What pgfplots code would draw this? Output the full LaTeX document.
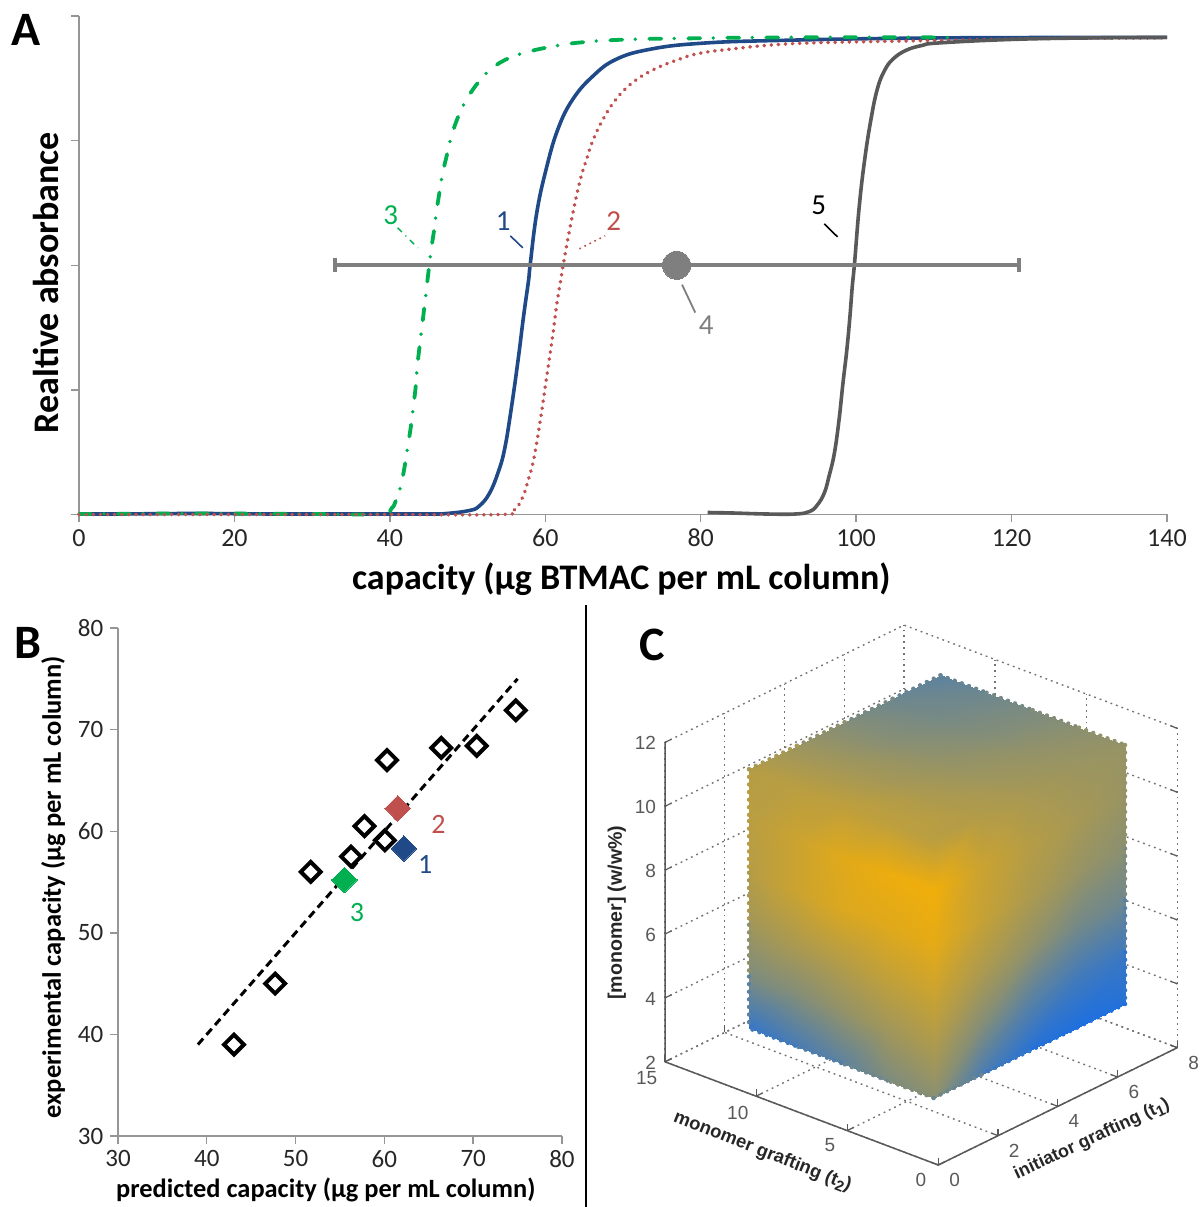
\documentclass[border=0pt]{standalone}
\usepackage{pgfplots}
\pgfplotsset{compat=1.18}
\usepackage{fontspec}
\setmainfont{Carlito}
\newfontfamily\arialf{Liberation Sans}
\definecolor{cblue}{RGB}{31,73,135}
\definecolor{cred}{RGB}{192,80,77}
\definecolor{cgreen}{RGB}{0,176,80}
\definecolor{cdark}{RGB}{89,89,89}
\definecolor{cgray}{RGB}{127,127,127}
\definecolor{caxis}{RGB}{150,150,150}
\pgfplotsset{
  office/.style={
    scale only axis, clip=false,
    axis x line*=bottom, axis y line*=left,
    axis line style={draw=caxis,line width=0.8pt,-},
    tick style={draw=caxis,line width=0.7pt},
    tick align=outside, major tick length=3.8pt,
    /pgf/number format/assume math mode=true,
    tick label style={font=\fontsize{13}{15}\selectfont,text=black!85},
  },
  edgedots/.style={mesh,point meta=explicit,line width=2.2pt,line cap=round,dash pattern=on 0pt off 3.8pt},
  face/.style={surf,shader=interp,point meta=explicit},
}
\begin{document}
\begin{tikzpicture}[x=1pt,y=1pt]
\useasboundingbox (0,0) rectangle (600,603.5);
% ---------- A
\begin{axis}[office, at={(39.5pt,346.25pt)}, anchor=south west, width=544pt, height=249.25pt,
  xmin=0,xmax=140,ymin=0,ymax=1,
  xtick={0,20,...,140}, ytick={0,0.25,0.5,0.75,1}, yticklabels={},
  xlabel={\fontsize{18}{20}\selectfont\bfseries capacity (µg BTMAC per mL column)},
  x label style={at={(axis description cs:0.4985,-0.13)},anchor=center},
  ylabel={\fontsize{18}{20}\selectfont\bfseries Realtive absorbance},
  y label style={at={(axis description cs:-0.0303,0.465)},anchor=center,rotate=0},
]
\addplot[no marks,cblue,line width=1.8pt,smooth,tension=0.7] coordinates {
(0,0.001)(5,0.001)(15,0.002)(25,0.001)(35,0.001)(45,0.001)(47.3,0.002)(50.25,0.008)(51.5,0.017)(52.8,0.042)(53.9,0.083)(54.75,0.13)(55.6,0.21)(56.5,0.31)(57.2,0.397)(57.85,0.47)(58.05,0.5)(58.9,0.605)(60.1,0.692)(61.6,0.772)(63.5,0.832)(66.1,0.879)(69.1,0.913)(73.4,0.933)(79.8,0.945)(90.1,0.951)(110.7,0.956)(140,0.957)};
\addplot[no marks,cgreen,line width=1.9pt,smooth,tension=0.7,line cap=round,dash pattern=on 6pt off 6.5pt on 0pt off 7pt] coordinates {
(0,0.001)(15,0.002)(30,0.001)(38.7,0.001)(40.2,0.012)(40.8,0.029)(41.4,0.057)(41.9,0.096)(42.3,0.136)(42.7,0.176)(43,0.214)(43.3,0.253)(43.5,0.293)(43.8,0.334)(44.1,0.372)(44.4,0.411)(44.7,0.451)(45,0.491)(45.3,0.53)(45.7,0.571)(46,0.608)(46.4,0.648)(46.8,0.685)(47.4,0.725)(48,0.763)(48.9,0.802)(50,0.836)(51.5,0.869)(53.2,0.896)(55.4,0.916)(58,0.929)(60.3,0.937)(62.9,0.944)(65.3,0.948)(67.8,0.951)(73,0.954)(78.1,0.955)(90,0.957)(113,0.957)};
\addplot[no marks,cred,line width=1.8pt,smooth,tension=0.7,line cap=round,dash pattern=on 0.2pt off 3.35pt] coordinates {
(0,0)(20,0)(40,0)(54.3,0)(56,0.009)(57.1,0.035)(57.8,0.069)(58.5,0.11)(59.3,0.183)(60,0.257)(60.5,0.31)(61,0.364)(61.5,0.424)(62,0.471)(62.3,0.5)(63.3,0.585)(64.4,0.665)(65.3,0.712)(66.1,0.749)(67.2,0.786)(68.9,0.829)(71.2,0.866)(74,0.893)(77.2,0.913)(79.8,0.925)(84.1,0.934)(90.1,0.943)(96.9,0.947)(110.7,0.951)(125,0.955)(140,0.956)};
\addplot[no marks,cdark,line width=1.8pt,smooth,tension=0.7] coordinates {
(80.9,0.004)(84.1,0.003)(88.4,0.001)(92.2,0.001)(94,0.006)(95,0.019)(95.9,0.043)(96.5,0.076)(97.2,0.123)(97.8,0.19)(98.3,0.263)(98.8,0.33)(99.2,0.397)(99.5,0.457)(99.8,0.505)(100.4,0.618)(101.1,0.712)(101.9,0.792)(102.7,0.852)(103.6,0.889)(104.7,0.913)(106.4,0.931)(108.5,0.941)(110.7,0.946)(120,0.953)(130,0.956)(140,0.957)};
\addplot[cgray,line width=2pt,mark=*,mark size=7pt,mark options={fill=cgray,draw=cgray,line width=0pt},
  error bars/.cd,x dir=both,x explicit,error bar style={cgray,line width=2pt},
  error mark options={cgray,rotate=90,mark size=3.5pt,line width=2pt}]
  coordinates {(76.9,0.5) +- (44,0)};
\begin{scope}[every node/.style={font=\fontsize{14.5}{16}\selectfont,anchor=center}]
\node[text=cgreen] at (axis cs:40.1,0.601) {3};
\node[text=cblue] at (axis cs:54.6,0.589) {1};
\node[text=cred] at (axis cs:68.8,0.589) {2};
\node[text=black] at (axis cs:95.2,0.621) {5};
\node[text=cgray] at (axis cs:80.7,0.379) {4};
\end{scope}
\draw[cgreen,line width=0.7pt,dash pattern=on 3pt off 2.5pt on 0.6pt off 2.5pt] (axis cs:41,0.575)--(axis cs:43.6,0.535);
\draw[cblue,line width=0.8pt] (axis cs:55.5,0.559)--(axis cs:57.1,0.535);
\draw[cred,line width=0.8pt,dotted] (axis cs:64.4,0.533)--(axis cs:67.7,0.559);
\draw[black,line width=0.8pt] (axis cs:95.9,0.583)--(axis cs:97.6,0.557);
\draw[cgray,line width=0.9pt] (axis cs:77.6,0.461)--(axis cs:79.3,0.405);
\end{axis}
% ---------- B
\begin{axis}[office, at={(59pt,35.5pt)}, anchor=south west, width=222pt, height=254pt,
  xmin=30,xmax=80,ymin=30,ymax=80,
  xtick={30,40,...,80}, ytick={30,40,...,80},
  tick label style={font=\fontsize{12.5}{14}\selectfont,text=black!85},
  xlabel={\fontsize{13.2}{15}\selectfont\bfseries predicted capacity (µg per mL column)},
  x label style={at={(axis description cs:0.468,-0.106)},anchor=center},
  ylabel={\fontsize{13.25}{15}\selectfont\bfseries experimental capacity (µg per mL column)},
  y label style={at={(axis description cs:-0.146,0.49)},anchor=center,rotate=0},
]
\addplot[only marks,mark=square*,mark size=4.5pt,mark options={rotate=45,fill=cred,draw=cred,line width=0pt}] coordinates {(61.5,62.25)};
\addplot[only marks,mark=square*,mark size=4.5pt,mark options={rotate=45,fill=cblue,draw=cblue,line width=0pt}] coordinates {(62.2,58.3)};
\addplot[only marks,mark=square*,mark size=4.5pt,mark options={rotate=45,fill=cgreen,draw=cgreen,line width=0pt}] coordinates {(55.5,55.2)};
\addplot[only marks,mark=square,mark size=3.5pt,mark options={rotate=45,draw=black,line width=2pt}] coordinates {
(43.06,39)(47.7,45)(51.7,56)(56.25,57.5)(57.75,60.5)(60.05,59.1)(60.3,67)(66.4,68.2)(70.4,68.4)(74.8,71.9)};
\addplot[no marks,black,line width=1.5pt,dash pattern=on 4pt off 2.5pt] coordinates {(39,39)(75,75)};
\begin{scope}[every node/.style={font=\fontsize{14}{16}\selectfont,anchor=center}]
\node[text=cblue] at (axis cs:64.6,56.7) {1};
\node[text=cred] at (axis cs:66.1,60.7) {2};
\node[text=cgreen] at (axis cs:56.9,52) {3};
\end{scope}
\end{axis}
% ---------- C
\begin{axis}[anchor=origin, at={(469.15pt,21pt)},
  x={(14.94pt,7.33pt)}, y={(-9.11pt,3.44pt)}, z={(0pt,15.97pt)},
  clip=false,
  xmin=0,xmax=8,ymin=0,ymax=15,zmin=2,zmax=12,
  xtick={0,2,...,8}, ytick={0,5,10,15}, ztick={2,4,...,12},
  xtick pos=left, ytick pos=left, ztick pos=left,
  grid=major, grid style={line width=0.7pt,black!55,dash pattern=on 0.9pt off 2pt},
  axis line style={draw=none},
  tick style={draw=black!65,line width=0.6pt},
  major tick length=3.5pt,
  /pgf/number format/assume math mode=true,
  tick label style={font=\arialf\fontsize{9.5}{11}\selectfont,text=black!65},
  x tick label style={xshift=3pt},
  y tick label style={xshift=-4pt},
  z tick label style={xshift=-1pt},
  colormap={bo}{rgb255=(29,111,224) rgb255=(240,174,10)},
  point meta min=0, point meta max=1,
  xlabel={\arialf\fontsize{9}{11}\selectfont\bfseries initiator grafting (t\raisebox{-2pt}{\fontsize{7.5}{8}\selectfont 1})},
  x label style={at={(axis cs:3.22,-3.15,2)},rotate=25,anchor=center,text=black!85},
  ylabel={\arialf\fontsize{9.2}{11}\selectfont\bfseries monomer grafting (t\raisebox{-2pt}{\fontsize{7.5}{8}\selectfont 2})},
  y label style={at={(axis cs:-2.05,6.29,2)},rotate=-21.5,anchor=center,text=black!85},
  zlabel={\arialf\fontsize{9.8}{11}\selectfont\bfseries [monomer] (w/w\%)},
  z label style={at={(axis cs:0,17.64,6.1)},rotate=0,anchor=center,text=black!85},
]
\addplot3[face,mesh/rows=6,mesh/cols=5] table[meta=m,row sep=\\]{
x y z m\\
1 12.03 3.23 .12\\ 1 9.5 3.23 .2\\ 1 6.97 3.23 .3\\ 1 4.43 3.23 .45\\ 1 1.9 3.23 .52\\
1 12.03 4.85 .45\\ 1 9.5 4.85 .48\\ 1 6.97 4.85 .55\\ 1 4.43 4.85 .62\\ 1 1.9 4.85 .68\\
1 12.03 6.47 .62\\ 1 9.5 6.47 .68\\ 1 6.97 6.47 .72\\ 1 4.43 6.47 .78\\ 1 1.9 6.47 .82\\
1 12.03 8.10 .72\\ 1 9.5 8.10 .82\\ 1 6.97 8.10 .9\\ 1 4.43 8.10 .92\\ 1 1.9 8.10 .95\\
1 12.03 9.72 .74\\ 1 9.5 9.72 .82\\ 1 6.97 9.72 .92\\ 1 4.43 9.72 .98\\ 1 1.9 9.72 1\\
1 12.03 11.34 .72\\ 1 9.5 11.34 .74\\ 1 6.97 11.34 .76\\ 1 4.43 11.34 .76\\ 1 1.9 11.34 .74\\
};
\addplot3[face,mesh/rows=6,mesh/cols=5] table[meta=m,row sep=\\]{
x y z m\\
1 1.9 3.23 .52\\ 2.6 1.9 3.23 .22\\ 4.2 1.9 3.23 .05\\ 5.8 1.9 3.23 0\\ 7.41 1.9 3.23 .03\\
1 1.9 4.85 .68\\ 2.6 1.9 4.85 .5\\ 4.2 1.9 4.85 .3\\ 5.8 1.9 4.85 .18\\ 7.41 1.9 4.85 .15\\
1 1.9 6.47 .82\\ 2.6 1.9 6.47 .68\\ 4.2 1.9 6.47 .55\\ 5.8 1.9 6.47 .42\\ 7.41 1.9 6.47 .38\\
1 1.9 8.10 .95\\ 2.6 1.9 8.10 .8\\ 4.2 1.9 8.10 .68\\ 5.8 1.9 8.10 .58\\ 7.41 1.9 8.10 .52\\
1 1.9 9.72 1\\ 2.6 1.9 9.72 .82\\ 4.2 1.9 9.72 .72\\ 5.8 1.9 9.72 .65\\ 7.41 1.9 9.72 .58\\
1 1.9 11.34 .74\\ 2.6 1.9 11.34 .7\\ 4.2 1.9 11.34 .65\\ 5.8 1.9 11.34 .6\\ 7.41 1.9 11.34 .57\\
};
\addplot3[face,mesh/rows=5,mesh/cols=5] table[meta=m,row sep=\\]{
x y z m\\
1 1.9 11.34 .74\\ 2.6 1.9 11.34 .7\\ 4.2 1.9 11.34 .65\\ 5.8 1.9 11.34 .6\\ 7.41 1.9 11.34 .57\\
1 4.43 11.34 .76\\ 2.6 4.43 11.34 .68\\ 4.2 4.43 11.34 .6\\ 5.8 4.43 11.34 .56\\ 7.41 4.43 11.34 .52\\
1 6.97 11.34 .76\\ 2.6 6.97 11.34 .64\\ 4.2 6.97 11.34 .55\\ 5.8 6.97 11.34 .48\\ 7.41 6.97 11.34 .45\\
1 9.5 11.34 .74\\ 2.6 9.5 11.34 .62\\ 4.2 9.5 11.34 .5\\ 5.8 9.5 11.34 .42\\ 7.41 9.5 11.34 .38\\
1 12.03 11.34 .72\\ 2.6 12.03 11.34 .6\\ 4.2 12.03 11.34 .48\\ 5.8 12.03 11.34 .38\\ 7.41 12.03 11.34 .3\\
};
\addplot3[edgedots] table[meta=m,row sep=\\]{
x y z m\\ 1 12.03 3.23 .12\\ 1 12.03 4.85 .45\\ 1 12.03 6.47 .62\\ 1 12.03 8.10 .72\\ 1 12.03 9.72 .74\\ 1 12.03 11.34 .72\\
};
\addplot3[edgedots] table[meta=m,row sep=\\]{
x y z m\\ 7.41 1.9 3.23 .03\\ 7.41 1.9 4.85 .15\\ 7.41 1.9 6.47 .38\\ 7.41 1.9 8.10 .52\\ 7.41 1.9 9.72 .58\\ 7.41 1.9 11.34 .57\\
};
\addplot3[edgedots] table[meta=m,row sep=\\]{
x y z m\\ 1 12.03 3.23 .12\\ 1 9.5 3.23 .2\\ 1 6.97 3.23 .3\\ 1 4.43 3.23 .45\\ 1 1.9 3.23 .52\\
};
\addplot3[edgedots] table[meta=m,row sep=\\]{
x y z m\\ 1 1.9 3.23 .52\\ 2.6 1.9 3.23 .22\\ 4.2 1.9 3.23 .05\\ 5.8 1.9 3.23 0\\ 7.41 1.9 3.23 .03\\
};
\addplot3[edgedots] table[meta=m,row sep=\\]{
x y z m\\ 1 12.03 11.34 .72\\ 2.6 12.03 11.34 .6\\ 4.2 12.03 11.34 .48\\ 5.8 12.03 11.34 .38\\ 7.41 12.03 11.34 .3\\
};
\addplot3[edgedots] table[meta=m,row sep=\\]{
x y z m\\ 7.41 1.9 11.34 .57\\ 7.41 4.43 11.34 .52\\ 7.41 6.97 11.34 .45\\ 7.41 9.5 11.34 .38\\ 7.41 12.03 11.34 .3\\
};
\draw[black!65,line width=0.75pt] (axis cs:8,0,2)--(axis cs:0,0,2)--(axis cs:0,15,2)--(axis cs:0,15,12);
\end{axis}
% ---------- panel letters and divider
\node[font=\fontsize{24}{26}\selectfont\bfseries] at (13,588.5) {A};
\node[font=\fontsize{24}{26}\selectfont\bfseries] at (14,282) {B};
\node[font=\fontsize{24}{26}\selectfont\bfseries] at (326,281) {C};
\draw[black,line width=0.8pt] (293,0)--(293,301);
\end{tikzpicture}
\end{document}
